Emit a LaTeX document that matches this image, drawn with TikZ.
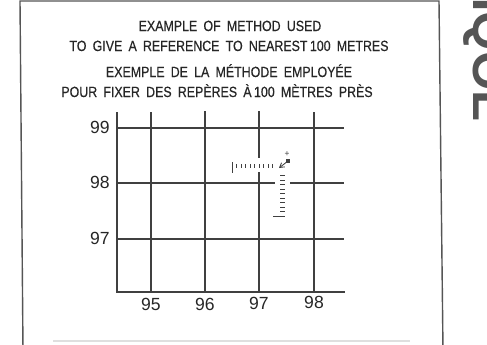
\documentclass[tikz,border=0pt]{standalone}
\usepackage{fontspec}
\setmainfont{Liberation Sans}
\newfontfamily\narrowfont[FakeStretch=0.84,FakeBold=0.4,WordSpace=1.8]{Liberation Sans}
\usepackage{xcolor}
\usetikzlibrary{arrows.meta}
\definecolor{gridgrey}{HTML}{404040}
\definecolor{inkgrey}{HTML}{262626}
\definecolor{sidegrey}{HTML}{555555}

\begin{document}
\begin{tikzpicture}[
        x=0.025cm, y=-0.025cm,
        gridline/.style={
          draw=gridgrey,
          line width=0.75pt
        },
        title/.style={
          font=\narrowfont\fontsize{10.5}{12}\selectfont,
          text=inkgrey,
          anchor=base,
          inner sep=0pt
        },
        axislabel/.style={
          font=\fontsize{12.5}{14}\selectfont,
          text=inkgrey,
          inner sep=0pt
        },
        tick/.style={
          draw=gridgrey,
          line width=0.6pt
        },
        pointer/.style={
          -{Straight Barb[length=1.1mm,width=1.3mm]},
          draw=gridgrey,
          line width=0.6pt
        }
      ]

      \clip (0,0) rectangle (487,344);
      \fill[white] (0,0) rectangle (487,344);

      % frame of the panel
      \draw[draw=sidegrey, line width=1pt] (23,350) -- (20,1) -- (439,1) -- (443,350);
      \draw[gray!25, line width=1.2pt] (53,341) -- (410,341);

      % heading
      \node[title] (titleen) at (230,31) {EXAMPLE OF METHOD USED};
      \node[title] (titleentwo) at (229,51) {TO GIVE A REFERENCE TO NEAREST\,100 METRES};
      \node[title] (titlefr) at (229,77) {EXEMPLE DE LA MÉTHODE EMPLOYÉE};
      \node[title] (titlefrtwo) at (217,97) {POUR FIXER DES REPÈRES À\,100 MÈTRES PRÈS};

      % grid
      \draw[gridline] (117,112) -- (117,292) -- (345,292);
      \draw[gridline] (117,128) -- (344,128);
      \draw[gridline] (117,183) -- (275,183);
      \draw[gridline] (290,183) -- (344,183);
      \draw[gridline] (117,239) -- (344,239);
      \draw[gridline] (151,112) -- (151,292);
      \draw[gridline] (205,111) -- (205,292);
      \draw[gridline] (259,111) -- (259,158);
      \draw[gridline] (259,172) -- (259,292);
      \draw[gridline] (314,112) -- (314,292);

      \node[axislabel] (north99) at (100,127) {99};
      \node[axislabel] (north98) at (100,182) {98};
      \node[axislabel] (north97) at (100,238) {97};
      \node[axislabel] (east95) at (151,304) {95};
      \node[axislabel] (east96) at (205,304) {96};
      \node[axislabel] (east97) at (259,303) {97};
      \node[axislabel] (east98) at (314,302) {98};

      % the two tenths scales
      \draw[tick] (232,162) -- (232,173);
      \foreach \k in {1,...,9}
        \draw[tick] ({232+4.5*\k},164) -- ({232+4.5*\k},168);
      \draw[tick] (273,216) -- (285,216);
      \foreach \k in {1,...,9}
        \draw[tick] (280,{216-4.5*\k}) -- (285,{216-4.5*\k});

      % the point
      \node[fill=gridgrey, inner sep=0pt, minimum size=0.08cm] (spot) at (288,161) {};
      \node[inner sep=0pt, text=gridgrey, font=\fontsize{6}{6}\selectfont] (spotmark) at (287,154) {+};
      \coordinate (spottip) at (279,168);
      \draw[pointer] (spot) -- (spottip);

      % edge of the next page
      \node[rotate=-90, anchor=base west, inner sep=0pt, text=sidegrey,
            font=\bfseries\fontsize{36}{36}\selectfont] (sidetext) at (473,-25) {HQOL};

      \end{tikzpicture}
\end{document}
